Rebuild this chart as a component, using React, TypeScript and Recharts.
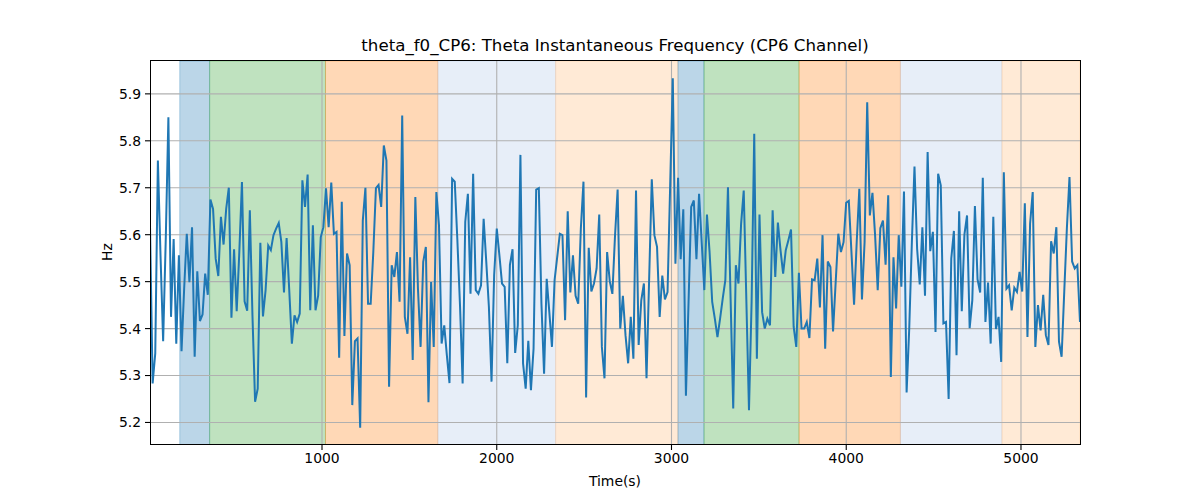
import React from 'react';
import { LineChart, Line, XAxis, YAxis, ReferenceArea, ReferenceLine } from 'recharts';

const T0 = 15.7;
const DT = 15.034;

const values: number[] = [
  5.62, 5.283, 5.347, 5.758, 5.556, 5.373, 5.591, 5.85, 5.425, 5.591,
  5.368, 5.556, 5.352, 5.485, 5.602, 5.499, 5.616, 5.34, 5.522, 5.416,
  5.43, 5.517, 5.472, 5.675, 5.655, 5.549, 5.512, 5.638, 5.579, 5.655,
  5.7, 5.423, 5.569, 5.437, 5.563, 5.712, 5.458, 5.438, 5.652, 5.428,
  5.244, 5.272, 5.583, 5.426, 5.482, 5.577, 5.567,
  5.599, 5.613, 5.625, 5.584, 5.477, 5.593, 5.482, 5.368, 5.428, 5.414,
  5.432, 5.716, 5.659, 5.728, 5.439, 5.62, 5.439, 5.47, 5.595, 5.616,
  5.699, 5.616, 5.711, 5.602, 5.606, 5.338, 5.67, 5.384, 5.56, 5.535,
  5.237, 5.373, 5.379, 5.189, 5.63, 5.7, 5.453, 5.453, 5.563, 5.699,
  5.706, 5.659, 5.79, 5.758,
  5.276, 5.535, 5.51, 5.563, 5.457, 5.854, 5.425, 5.389, 5.552, 5.333,
  5.68, 5.485, 5.361, 5.542, 5.574, 5.243, 5.499, 5.361, 5.691, 5.62,
  5.368, 5.407, 5.343, 5.284, 5.719, 5.713, 5.588, 5.45, 5.283, 5.627,
  5.687, 5.474, 5.73, 5.482, 5.474, 5.492, 5.634, 5.542, 5.446, 5.287,
  5.514, 5.613, 5.556, 5.496, 5.489, 5.326,
  5.536, 5.569, 5.348, 5.407, 5.77, 5.326, 5.272, 5.374, 5.269, 5.357,
  5.696, 5.699, 5.453, 5.304, 5.506, 5.435, 5.361, 5.503, 5.552, 5.602,
  5.599, 5.418, 5.65, 5.477, 5.556, 5.47, 5.453, 5.613, 5.713, 5.253,
  5.572, 5.479, 5.496, 5.528, 5.643, 5.361, 5.294, 5.563, 5.501, 5.474,
  5.597, 5.696, 5.4, 5.47, 5.386, 5.326,
  5.425, 5.336, 5.694, 5.365, 5.46, 5.496, 5.294, 5.506, 5.718, 5.599,
  5.574, 5.425, 5.513, 5.462, 5.478, 5.705, 5.933, 5.538, 5.721, 5.548,
  5.654, 5.257, 5.457, 5.659, 5.673, 5.548, 5.687, 5.584, 5.482, 5.643,
  5.563, 5.457, 5.421, 5.382, 5.421, 5.464, 5.503, 5.701, 5.464, 5.23,
  5.535, 5.496, 5.623, 5.694, 5.46, 5.226,
  5.457, 5.815, 5.336, 5.643, 5.435, 5.4, 5.421, 5.407, 5.652, 5.51,
  5.626, 5.567, 5.517, 5.567, 5.588, 5.611, 5.404, 5.361, 5.519, 5.4,
  5.4, 5.414, 5.38, 5.505, 5.503, 5.549, 5.445, 5.599, 5.357, 5.543,
  5.531, 5.394, 5.499, 5.602, 5.563, 5.584, 5.668, 5.672, 5.563, 5.451,
  5.584, 5.698, 5.462, 5.584, 5.882, 5.641,
  5.689, 5.599, 5.482, 5.614, 5.63, 5.536, 5.684, 5.297, 5.552, 5.443,
  5.599, 5.489, 5.692, 5.264, 5.4, 5.584, 5.745, 5.57, 5.494, 5.616,
  5.47, 5.776, 5.565, 5.606, 5.393, 5.73, 5.705, 5.411, 5.414, 5.25,
  5.549, 5.608, 5.343, 5.65, 5.437, 5.6, 5.641, 5.401, 5.46, 5.661,
  5.505, 5.477, 5.721, 5.414, 5.498,
  5.368, 5.638, 5.399, 5.425, 5.329, 5.733, 5.485, 5.492, 5.439, 5.487,
  5.478, 5.521, 5.479, 5.667, 5.382, 5.623, 5.691, 5.361, 5.45, 5.396,
  5.472, 5.386, 5.365, 5.586, 5.56, 5.616, 5.372, 5.34, 5.478, 5.613,
  5.723, 5.543, 5.528, 5.535, 5.414,
];

const bandStart = [186, 357, 1020, 1663, 2337, 3037, 3186, 3730, 4310, 4891];
const bandEnd = [357, 1020, 1663, 2337, 3037, 3186, 3730, 4310, 4891, 5338];
const bandColor = ['#1f77b4', '#2ca02c', '#ff7f0e', '#aec7e8', '#ffbb78', '#1f77b4', '#2ca02c', '#ff7f0e', '#aec7e8', '#ffbb78'];

const xTicks = [1000, 2000, 3000, 4000, 5000];
const yTicks = [5.2, 5.3, 5.4, 5.5, 5.6, 5.7, 5.8, 5.9];

const X_DOMAIN: [number, number] = [T0, T0 + DT * (values.length - 1)];
const Y_DOMAIN: [number, number] = [5.152, 5.97];

const data = values.map((v, i) => ({ t: T0 + i * DT, v }));

const FONT = 'DejaVu Sans, sans-serif';
const tickStyle = { fontSize: 13.9, fontFamily: FONT, fill: '#000' };

export default function App() {
  return (
    <div style={{ position: 'absolute', left: 0, top: 0, width: 1200, height: 500, background: '#fff' }}>
      <LineChart
        width={1200}
        height={500}
        data={data}
        margin={{ top: 61, right: 120, bottom: 15, left: 90 }}
      >
        {bandStart.map((s, i) => (
          <ReferenceArea
            key={'b' + i}
            x1={s}
            x2={bandEnd[i]}
            fill={bandColor[i]}
            fillOpacity={0.3}
            stroke={bandColor[i]}
            strokeOpacity={0.3}
            strokeWidth={1}
            ifOverflow="hidden"
          />
        ))}
        {xTicks.map((t) => (
          <ReferenceLine key={'gx' + t} x={t} stroke="#b0b0b0" strokeWidth={1.1} />
        ))}
        {yTicks.map((t) => (
          <ReferenceLine key={'gy' + t} y={t} stroke="#b0b0b0" strokeWidth={1.1} />
        ))}
        <XAxis
          dataKey="t"
          type="number"
          domain={X_DOMAIN}
          ticks={xTicks}
          allowDataOverflow
          height={40}
          axisLine={false}
          tickLine={{ stroke: '#000', strokeWidth: 1.1 }}
          tickSize={5}
          tickMargin={3}
          tick={tickStyle}
        />
        <YAxis
          type="number"
          domain={Y_DOMAIN}
          ticks={yTicks}
          allowDataOverflow
          width={60}
          axisLine={false}
          tickLine={{ stroke: '#000', strokeWidth: 1.1 }}
          tickSize={5}
          tickMargin={4}
          tick={tickStyle}
          tickFormatter={(v: number) => v.toFixed(1)}
        />
        <Line
          type="linear"
          dataKey="v"
          stroke="#1f77b4"
          strokeWidth={2}
          dot={false}
          isAnimationActive={false}
        />
      </LineChart>
      <div
        style={{
          position: 'absolute',
          left: 149.8,
          top: 60.3,
          width: 931,
          height: 385.2,
          border: '1px solid #000',
          boxSizing: 'border-box',
          pointerEvents: 'none',
        }}
      />
      <div
        style={{
          position: 'absolute',
          left: 150,
          width: 930,
          top: 36,
          textAlign: 'center',
          fontFamily: FONT,
          fontSize: 16.67,
          lineHeight: '20px',
          color: '#000',
        }}
      >
        theta_f0_CP6: Theta Instantaneous Frequency (CP6 Channel)
      </div>
      <div
        style={{
          position: 'absolute',
          left: 150,
          width: 930,
          top: 472,
          textAlign: 'center',
          fontFamily: FONT,
          fontSize: 13.9,
          lineHeight: '18px',
          color: '#000',
        }}
      >
        Time(s)
      </div>
      <div
        style={{
          position: 'absolute',
          left: 107,
          top: 252,
          transform: 'translate(-50%, -50%) rotate(-90deg)',
          fontFamily: FONT,
          fontSize: 13.9,
          lineHeight: '18px',
          color: '#000',
          whiteSpace: 'nowrap',
        }}
      >
        Hz
      </div>
    </div>
  );
}
